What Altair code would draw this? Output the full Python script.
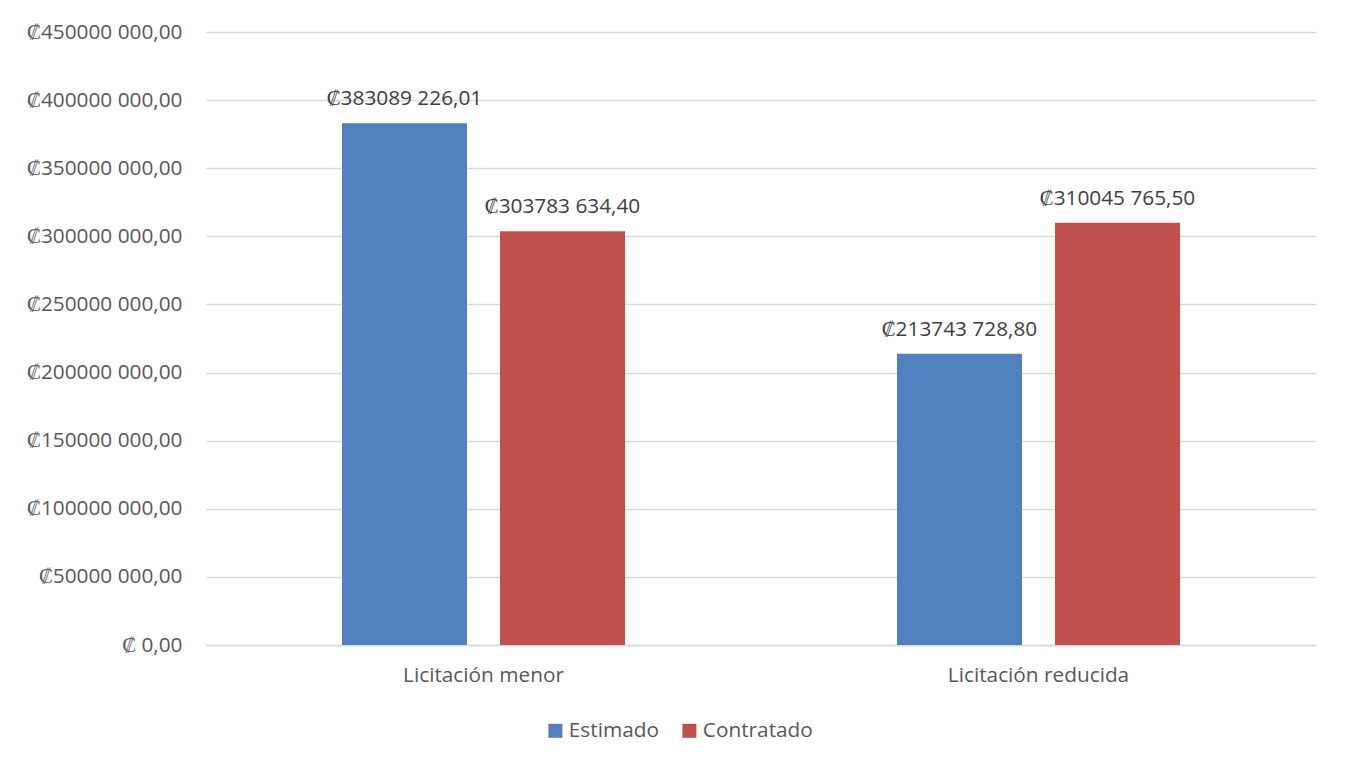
import altair as alt
import pandas as pd

categories = ["Licitación menor", "Licitación reducida"]
series = ["Estimado", "Contratado"]
estimado = [383089226.01, 213743728.80]
contratado = [303783634.40, 310045765.50]
colors = ["#4F81BD", "#C0504D"]


def fmt(v):
    cents = int(round(v * 100))
    whole, c = divmod(cents, 100)
    return f"₡{whole // 1000} {whole % 1000:03d},{c:02d}"


rows = []
for i, cat in enumerate(categories):
    for s, vals in zip(series, [estimado, contratado]):
        rows.append({"cat": cat, "serie": s, "valor": vals[i], "label": fmt(vals[i])})
df = pd.DataFrame(rows)

FONT = "Open Sans"
FS = 20.8

x = alt.X("cat:N", sort=categories, title=None,
          scale=alt.Scale(paddingInner=0.49, paddingOuter=0.245),
          axis=alt.Axis(labelAngle=0, ticks=False, domain=True, domainColor="#D9D9D9",
                        domainWidth=1.3, labelLimit=0,
                        labelFontSize=FS, labelColor="#595959", labelFont=FONT,
                        labelPadding=20, grid=False))
xo = alt.XOffset("serie:N", sort=series,
                 scale=alt.Scale(paddingInner=0.209, paddingOuter=0))
y = alt.Y("valor:Q", title=None,
          scale=alt.Scale(domain=[0, 450000000], nice=False),
          axis=alt.Axis(values=list(range(0, 450000001, 50000000)),
                        labelExpr="datum.value == 0 ? '₡ 0,00' : '₡' + (datum.value/1000) + ' 000,00'",
                        ticks=False, domain=False, gridColor="#D9D9D9", gridWidth=1.3,
                        labelFontSize=FS, labelColor="#595959", labelFont=FONT,
                        labelPadding=24, labelLimit=0))

color = alt.Color("serie:N", sort=series,
                  scale=alt.Scale(domain=series, range=colors),
                  legend=alt.Legend(title=None, orient="none", direction="horizontal",
                                    legendX=339, legendY=688, symbolType="square",
                                    symbolSize=196, symbolStrokeWidth=0,
                                    labelFontSize=FS, labelColor="#595959", labelFont=FONT,
                                    columnPadding=20, labelOffset=3))

bars = alt.Chart(df).mark_bar().encode(x=x, xOffset=xo, y=y, color=color)
text = alt.Chart(df).mark_text(baseline="bottom", dy=-14, fontSize=FS,
                               color="#404040", font=FONT).encode(
    x=x, xOffset=xo, y=y, text="label:N")

chart = (bars + text).properties(
    width=1110, height=613,
    autosize=alt.AutoSizeParams(type="none"),
    padding={"left": 198, "top": 24, "right": 24, "bottom": 100},
).configure(background="white", view=alt.ViewConfig(stroke="transparent", strokeWidth=0))

chart.save("out.html", embed_options={"renderer": "svg", "actions": False})
